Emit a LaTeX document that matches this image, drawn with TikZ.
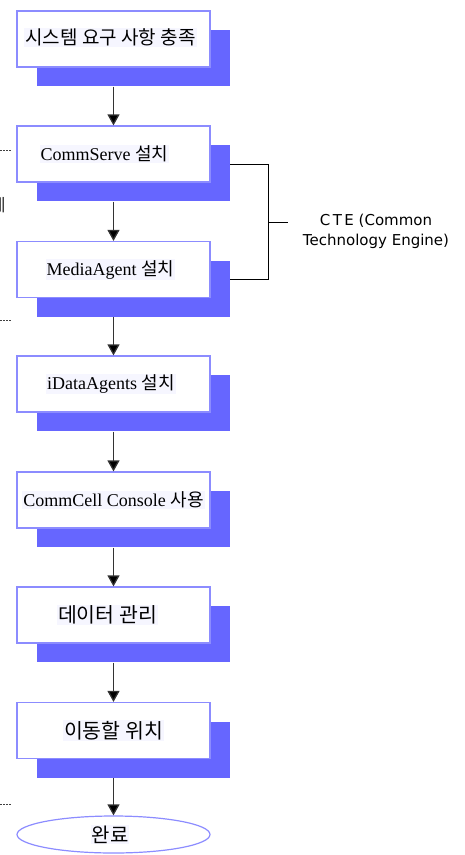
\documentclass[tikz,border=0pt]{standalone}
\usepackage{fontspec}
\setmainfont{Liberation Serif}
\newfontfamily\kr{Noto Sans CJK KR}
\newfontfamily\ctefont{DejaVu Sans}
\usetikzlibrary{shadows,arrows.meta,calc,shapes.geometric}
\definecolor{shadowblue}{HTML}{6666FF}
\definecolor{framebl}{HTML}{8C8CFF}
\definecolor{textbg}{HTML}{F6F6FF}
\definecolor{flowgray}{HTML}{333333}
\newcommand{\tb}[1]{{\setlength{\fboxsep}{1pt}\colorbox{textbg}{#1}}}
\newcommand{\krbig}{\kr\fontsize{20.5}{22}\selectfont}
\tikzset{
  stepbox/.style={draw=framebl, line width=1.2pt, fill=white,
    minimum width=193pt, minimum height=56pt, inner sep=0pt,
    font=\fontsize{18}{20}\selectfont,
    drop shadow={shadow xshift=19.5pt, shadow yshift=-19pt, fill=shadowblue, opacity=1}},
  endbox/.style={ellipse, draw=framebl, line width=1.2pt, fill=white,
    minimum width=193pt, minimum height=37pt, inner sep=0pt,
    font=\kr\fontsize{20}{22}\selectfont},
  flow/.style={draw=flowgray, line width=1.3pt, -{Triangle[width=12pt,length=11pt,fill=black]}},
  bracket/.style={draw=black, line width=1pt},
  frag/.style={draw=black!75, line width=1pt, dash pattern=on 1.5pt off 1.5pt},
}
\begin{document}
\begin{tikzpicture}[x=1pt,y=-1pt]
\useasboundingbox (0,0) rectangle (465,855);
\node[stepbox] (b1) at (113.5,39) {\hspace*{-6pt}\raisebox{5pt}{\tb{\kr\fontsize{19}{20}\selectfont 시스템 요구 사항 충족}}};
\node[stepbox] (b2) at (113.5,154) {\hspace*{-18pt}\raisebox{3pt}{\tb{CommServe {\kr 설치}}}};
\node[stepbox] (b3) at (113.5,269.5) {\hspace*{-6pt}\tb{MediaAgent {\kr 설치}}};
\node[stepbox] (b4) at (113.5,384) {\hspace*{-5pt}\tb{iDataAgents {\kr 설치}}};
\node[stepbox] (b5) at (113.5,500) {\tb{CommCell Console {\kr 사용}}};
\node[stepbox] (b6) at (113.5,615) {\hspace*{-12pt}\tb{\krbig 데이터 관리}};
\node[stepbox] (b7) at (113.5,730.5) {\tb{\krbig 이동할 위치}};
\node[endbox] (e) at (113.5,834.5) {\hspace*{-7pt}\tb{완료}};

\draw[flow] ([yshift=-19pt]b1.south) -- (b2.north);
\draw[flow] ([yshift=-19pt]b2.south) -- (b3.north);
\draw[flow] ([yshift=-19pt]b3.south) -- (b4.north);
\draw[flow] ([yshift=-19pt]b4.south) -- (b5.north);
\draw[flow] ([yshift=-19pt]b5.south) -- (b6.north);
\draw[flow] ([yshift=-19pt]b6.south) -- (b7.north);
\draw[flow] ([yshift=-19pt]b7.south) -- (e.north);

\coordinate (c1) at (230,164);
\coordinate (c2) at (268,164);
\coordinate (c3) at (268,279);
\coordinate (c4) at (230,279);
\coordinate (cm) at (268,222);
\coordinate (ct) at (288,222);
\draw[bracket] (c1) -- (c2) -- (c3) -- (c4);
\draw[bracket] (cm) -- (ct);
\node[font=\ctefont\fontsize{15}{20}\selectfont, align=center, inner sep=0pt] (cte) at (376,231)
  {C\,T\,E (Common\\Technology Engine)};

\coordinate (f1a) at (0,150); \coordinate (f1b) at (12,150);
\coordinate (f2a) at (0,320); \coordinate (f2b) at (12,320);
\coordinate (f3a) at (0,804); \coordinate (f3b) at (12,804);
\draw[frag] (f1a) -- (f1b);
\draw[frag] (f2a) -- (f2b);
\draw[frag] (f3a) -- (f3b);
\node[anchor=east, inner sep=0pt, font=\kr\fontsize{17}{20}\selectfont, text=black!80] (fr) at (6,205) {에};
\end{tikzpicture}
\end{document}
